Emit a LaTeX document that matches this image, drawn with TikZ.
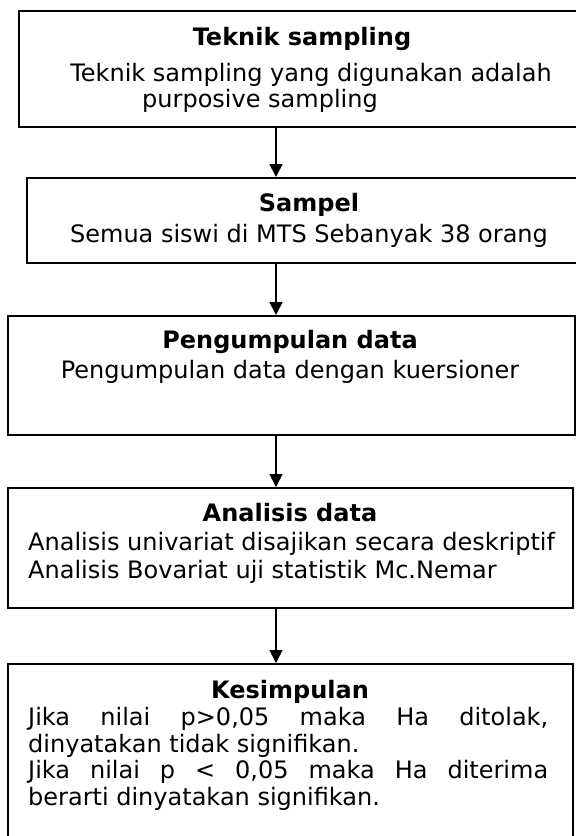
\documentclass[tikz,border=0pt]{standalone}
\usepackage{fontspec}
\setmainfont{DejaVu Sans}
\usetikzlibrary{arrows.meta}
\tikzset{
  box/.style={draw=black, line width=1.7pt, rectangle, anchor=north west, inner sep=0pt},
  ttl/.style={font=\fontsize{24pt}{27pt}\selectfont\bfseries, anchor=base, inner sep=0pt},
  txt/.style={font=\fontsize{24pt}{27pt}\selectfont, anchor=base, inner sep=0pt},
  txtl/.style={font=\fontsize{24pt}{27pt}\selectfont, anchor=base west, inner sep=0pt},
  arr/.style={line width=1.7pt, -{Triangle[width=13pt,length=13pt]}}
}
\begin{document}
\begin{tikzpicture}[x=1pt,y=1pt]
\useasboundingbox (0,0) rectangle (576,-836);
% boxes
\node[box, minimum width=580pt, minimum height=116pt] (b1) at (18,-10) {};
\node[box, minimum width=580pt, minimum height=85pt] (b2) at (26,-177) {};
\node[box, minimum width=567pt, minimum height=119pt] (b3) at (7,-315) {};
\node[box, minimum width=565pt, minimum height=120pt] (b4) at (7,-487) {};
\node[box, minimum width=565pt, minimum height=200pt] (b5) at (7,-663) {};
% texts
\node[ttl] (t1) at (302,-45) {Teknik sampling};
\node[txt] (t1a) at (311,-81) {Teknik sampling yang digunakan adalah};
\node[txt] (t1b) at (260,-107) {purposive sampling};
\node[ttl] (t2) at (309,-211) {Sampel};
\node[txt] (t2a) at (309,-242) {Semua siswi di MTS Sebanyak 38 orang};
\node[ttl] (t3) at (290,-348) {Pengumpulan data};
\node[txt] (t3a) at (290,-378) {Pengumpulan data dengan kuersioner};
\node[ttl] (t4) at (290,-521) {Analisis data};
\node[txtl] (t4a) at (28,-550) {Analisis univariat disajikan secara deskriptif};
\node[txtl] (t4b) at (28,-578) {Analisis Bovariat uji statistik Mc.Nemar};
\node[ttl] (t5) at (290,-698) {Kesimpulan};
\node[txtl] (t5a) at (28,-725) {\makebox[520pt][s]{Jika nilai p>0,05 maka Ha ditolak,}};
\node[txtl] (t5b) at (28,-752) {dinyatakan tidak signifikan.};
\node[txtl] (t5c) at (28,-778) {\makebox[520pt][s]{Jika nilai p < 0,05 maka Ha diterima}};
\node[txtl] (t5d) at (28,-805) {berarti dinyatakan signifikan.};
% connectors
\coordinate (ax) at (276,0);
\draw[arr] (b1.south -| ax) -- (b2.north -| ax);
\draw[arr] (b2.south -| ax) -- (b3.north -| ax);
\draw[arr] (b3.south -| ax) -- (b4.north -| ax);
\draw[arr] (b4.south -| ax) -- (b5.north -| ax);
\end{tikzpicture}
\end{document}
